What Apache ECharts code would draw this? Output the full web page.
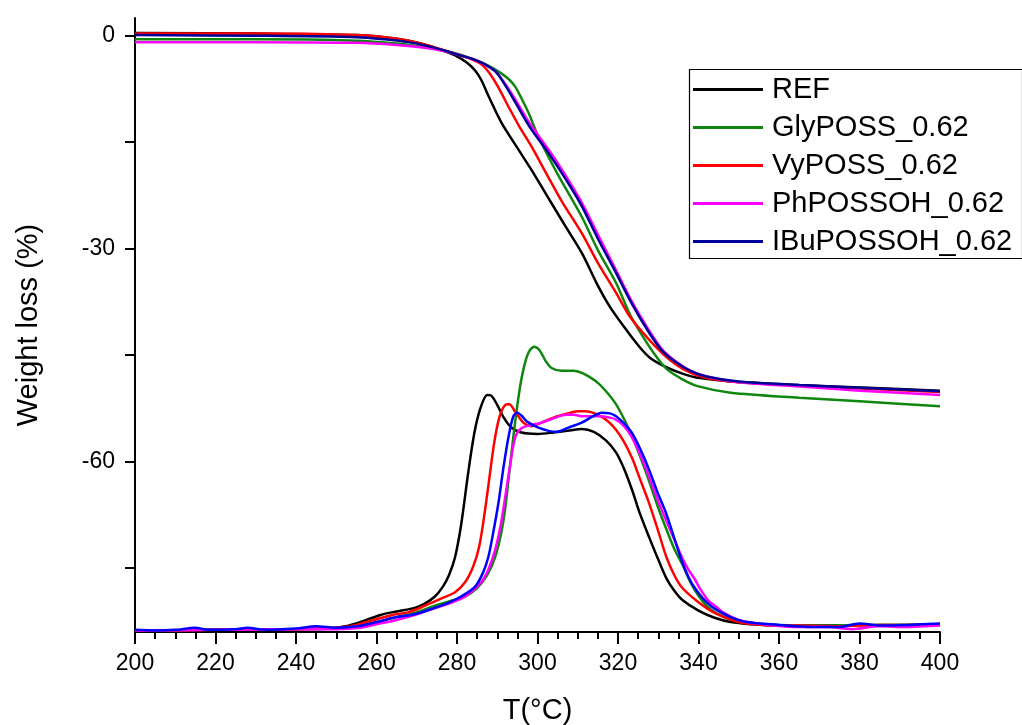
<!DOCTYPE html>
<html>
<head>
<meta charset="utf-8">
<script src="https://cdn.jsdelivr.net/npm/echarts@6/dist/echarts.min.js"></script>
<style>
  html, body { margin: 0; padding: 0; background: #fff; }
  #chart { width: 1022px; height: 725px; }
</style>
</head>
<body>
<div id="chart"></div>
<script>
// legend names
const names = ['REF', 'GlyPOSS_0.62', 'VyPOSS_0.62', 'PhPOSSOH_0.62', 'IBuPOSSOH_0.62'];

// TGA curves [T, weight change %]
const refTga = [[200,0.4],[230,0.3],[255,0.1],[262,-0.2],[268,-0.7],[273,-1.4],[277,-2.2],[280,-2.9],[282.5,-3.8],[284.5,-4.9],[286,-6.2],[288,-8.7],[291,-12.2],[295,-15.8],[298.5,-18.9],[302,-22.2],[307,-26.9],[311,-30.6],[315,-35.2],[318,-38.2],[322,-41.4],[325,-43.6],[328,-45.4],[332,-46.7],[336,-47.6],[340,-48.2],[348,-48.7],[365,-49.2],[382,-49.6],[400,-50.0]];
const glyTga = [[200,-0.5],[230,-0.5],[255,-0.7],[265,-1.1],[272,-1.6],[277,-2.1],[281,-2.7],[284,-3.3],[287,-4.0],[289,-4.6],[291,-5.3],[293,-6.2],[294.5,-7.2],[296,-8.8],[297.8,-10.9],[300.2,-14.2],[305,-19.5],[311,-25.5],[315,-30.2],[319.5,-34.8],[323,-39.3],[326,-42.2],[329,-44.8],[332,-46.9],[336,-48.4],[340,-49.4],[348,-50.3],[365,-51.0],[380,-51.5],[400,-52.2]];
const vyTga = [[200,0.3],[230,0.3],[255,0.1],[262,-0.2],[268,-0.7],[273,-1.4],[277,-2.1],[281,-2.8],[284,-3.4],[286,-4.0],[288,-5.2],[290,-7.0],[292.8,-10.0],[295.5,-12.8],[298.5,-15.6],[302,-19.2],[306,-23.3],[311,-27.8],[315,-32.0],[319.5,-36.2],[323,-39.6],[327.7,-42.8],[332.7,-45.6],[336,-46.9],[340,-47.9],[345,-48.5],[350,-48.8],[365,-49.3],[380,-49.7],[400,-50.2]];
const phTga = [[200,-0.9],[230,-0.9],[255,-1.0],[265,-1.3],[272,-1.7],[277,-2.2],[281,-2.8],[284,-3.3],[287,-4.1],[289.5,-5.0],[292,-6.8],[294.5,-9.0],[298,-12.3],[302.7,-16.0],[307,-19.7],[311,-23.5],[315,-28.0],[319.5,-33.0],[323.5,-37.5],[327.7,-41.5],[331,-44.2],[334.4,-45.9],[338,-47.2],[342,-48.0],[350,-48.8],[365,-49.4],[380,-50.0],[400,-50.6]];
const ibuTga = [[200,0.1],[230,0.0],[255,-0.2],[262,-0.5],[268,-0.9],[273,-1.5],[277,-2.1],[281,-2.8],[284,-3.3],[286.5,-3.9],[289.5,-5.0],[292,-7.0],[294.5,-9.4],[298,-12.8],[302.7,-16.5],[307,-20.2],[311,-24.0],[315,-28.6],[319.5,-33.4],[323.5,-37.8],[327.7,-41.8],[331,-44.4],[334.4,-46.0],[338,-47.2],[342,-48.0],[350,-48.7],[365,-49.2],[380,-49.6],[400,-50.1]];

// DTG curves, drawn offset on the same axis
const refDtg = [[200,-83.8],[210,-83.8],[220,-83.7],[230,-83.7],[240,-83.6],[248,-83.5],[253,-83.1],[257,-82.4],[261,-81.6],[265,-81.1],[269.5,-80.6],[272,-80.0],[274.5,-79.0],[276.5,-77.6],[278,-76.0],[279.5,-73.5],[281,-69.0],[282.8,-61.5],[284.3,-56.0],[285.8,-52.5],[287.5,-50.6],[288.5,-50.7],[290,-52.0],[291.5,-53.7],[293.5,-55.2],[296,-55.9],[300,-56.1],[304,-55.9],[308,-55.6],[311,-55.4],[314,-55.8],[317,-57.0],[319.5,-58.7],[321.5,-61.0],[323.5,-64.0],[325.5,-67.4],[327.7,-70.6],[330,-73.8],[332,-76.4],[334,-78.2],[336,-79.5],[340,-81.0],[344,-82.0],[348,-82.6],[353,-82.9],[360,-83.1],[370,-83.1],[380,-83.0],[390,-83.0],[400,-82.9]];
const glyDtg = [[200,-83.8],[220,-83.7],[240,-83.6],[250,-83.5],[255,-83.2],[260,-82.6],[265,-81.9],[269.5,-81.3],[274,-80.4],[278,-79.7],[282,-79.0],[285,-77.8],[287.5,-76.0],[289.5,-73.4],[291,-70.0],[292,-66.5],[293,-61.5],[294,-56.5],[295.3,-50.8],[296.5,-47.0],[297.8,-44.6],[299.2,-43.8],[300.5,-44.3],[302,-45.8],[303.5,-46.8],[306,-47.2],[309,-47.2],[311,-47.5],[313,-48.1],[315.2,-49.0],[317.5,-50.4],[319.5,-51.9],[321.5,-54.0],[323.4,-56.3],[325.5,-59.3],[327.7,-62.7],[330,-66.5],[332,-69.5],[334,-72.3],[336,-74.5],[338,-77.0],[340,-78.9],[342,-80.3],[344.3,-81.3],[348,-82.2],[352.6,-82.7],[360,-83.0],[370,-83.1],[380,-83.0],[390,-83.0],[400,-82.9]];
const vyDtg = [[200,-83.8],[220,-83.7],[240,-83.6],[250,-83.4],[255,-83.0],[260,-82.2],[264,-81.6],[268,-81.2],[272,-80.3],[276,-79.3],[279.5,-78.4],[282,-77.0],[284,-74.8],[285.5,-72.0],[286.8,-67.5],[288,-62.5],[289.2,-57.5],[290.5,-53.8],[292,-52.0],[293,-51.9],[294.5,-53.0],[296.5,-54.5],[298.5,-55.0],[301,-54.5],[304,-53.8],[307,-53.3],[310,-52.9],[312,-52.9],[315,-53.4],[317.5,-54.3],[319.5,-55.5],[321.5,-57.2],[323.5,-59.5],[325.5,-62.5],[327.7,-65.8],[330,-69.8],[332,-73.4],[334,-76.0],[336,-77.8],[340,-79.8],[344,-81.3],[350,-82.6],[356,-83.0],[365,-83.1],[375,-83.2],[385,-83.0],[400,-83.0]];
const phDtg = [[200,-83.8],[220,-83.7],[240,-83.6],[250,-83.6],[256,-83.4],[260,-82.9],[265,-82.3],[270,-81.5],[273.6,-80.8],[278,-80.0],[282,-79.0],[286,-77.0],[287.8,-75.2],[289.5,-72.4],[291,-68.5],[292,-64.9],[293.2,-60.5],[294.5,-56.5],[296,-55.3],[298,-54.9],[301,-54.5],[304,-53.9],[307,-53.4],[309,-53.4],[311,-53.6],[315.2,-53.6],[318,-53.8],[319.5,-54.1],[321.5,-55.0],[323.4,-56.5],[325.5,-59.0],[327.7,-62.1],[330,-65.6],[331.9,-68.2],[334,-71.0],[336,-73.6],[337.5,-75.2],[339,-76.5],[340.5,-78.0],[342.5,-79.6],[344.3,-80.4],[346,-81.2],[350,-82.3],[356,-82.9],[365,-83.3],[372,-83.3],[378,-83.6],[385,-83.2],[392,-83.3],[400,-83.1]];
const ibuDtg = [[200,-83.7],[205,-83.8],[210,-83.7],[215,-83.4],[218,-83.7],[225,-83.6],[228,-83.4],[232,-83.7],[240,-83.5],[245,-83.2],[250,-83.4],[255,-83.2],[260,-82.6],[265,-81.9],[269.5,-81.5],[274,-80.7],[277.8,-79.9],[281,-79.0],[284.5,-77.6],[286.5,-75.6],[287.8,-73.4],[289,-70.0],[290.3,-65.8],[291.5,-61.0],[292.8,-56.5],[294,-53.6],[295,-53.1],[296,-53.5],[297.5,-54.4],[300.2,-55.2],[304.5,-55.8],[307.7,-55.2],[311,-54.5],[313.5,-53.7],[316,-53.1],[318,-53.2],[319.5,-53.6],[321.5,-54.6],[323.4,-55.9],[325.5,-58.2],[327.7,-61.1],[330,-64.6],[331.9,-67.2],[334,-70.8],[336,-74.2],[338,-76.8],[340,-78.5],[342,-79.8],[344,-80.7],[348,-81.9],[352,-82.6],[360,-83.0],[368,-83.3],[375,-83.3],[380,-82.8],[385,-83.1],[392,-83.0],[400,-82.8]];

// axis ticks
const yTickValues = [0, -15, -30, -45, -60, -75];
const yLabelValues = [0, -30, -60];

const tgaSets = [refTga, glyTga, vyTga, phTga, ibuTga];
const dtgSets = [refDtg, glyDtg, vyDtg, phDtg, ibuDtg];
const tgaColors = ['#000000', '#0f870f', '#ff0000', '#ff00ff', '#000099'];
const dtgColors = ['#000000', '#0f870f', '#ff0000', '#ff00ff', '#0000ff'];

const font = 'Liberation Sans, Arial, sans-serif';

function line(name, data, color) {
  return {
    name: name,
    type: 'line',
    data: data,
    symbol: 'none',
    smooth: 0.3,
    lineStyle: { color: color, width: 2.5 },
    itemStyle: { color: color },
    z: 3
  };
}

const series = [];
names.forEach((n, i) => series.push(line(n, tgaSets[i], tgaColors[i])));
names.forEach((n, i) => series.push(line(n, dtgSets[i], dtgColors[i])));

const chart = echarts.init(document.getElementById('chart'), null, { renderer: 'canvas' });

chart.setOption({
  animation: false,
  backgroundColor: '#ffffff',
  grid: { left: 135, right: 82, top: 18, bottom: 93, outerBoundsMode: 'none', containLabel: false },
  xAxis: {
    type: 'value',
    min: 200,
    max: 400,
    interval: 20,
    name: 'T(°C)',
    nameLocation: 'middle',
    nameGap: 64,
    nameTextStyle: { fontFamily: font, fontSize: 29, color: '#000' },
    axisLine: { onZero: false, lineStyle: { color: '#000', width: 2 } },
    axisTick: { inside: false, length: 12, lineStyle: { color: '#000', width: 2 } },
    minorTick: { show: true, splitNumber: 4, length: 7, lineStyle: { color: '#000', width: 2 } },
    axisLabel: { fontFamily: font, fontSize: 23, color: '#000', margin: 20 },
    splitLine: { show: false }
  },
  yAxis: {
    type: 'value',
    min: -84.0,
    max: 2.5,
    name: 'Weight loss (%)',
    nameLocation: 'middle',
    nameGap: 92,
    nameRotate: 90,
    nameTextStyle: { fontFamily: font, fontSize: 29, color: '#000' },
    axisLine: { onZero: false, lineStyle: { color: '#000', width: 2 } },
    axisTick: { inside: false, length: 10, customValues: yTickValues, lineStyle: { color: '#000', width: 2 } },
    axisLabel: { fontFamily: font, fontSize: 23, color: '#000', margin: 20, customValues: yLabelValues },
    splitLine: { show: false }
  },
  legend: {
    data: names,
    orient: 'vertical',
    left: 693,
    top: 75,
    itemWidth: 70,
    itemHeight: 3,
    itemGap: 9,
    icon: 'rect',
    padding: 0,
    textStyle: { fontFamily: font, fontSize: 29, color: '#000', padding: [0, 0, 0, 4] }
  },
  graphic: [{
    type: 'rect',
    left: 687,
    top: 67,
    shape: { width: 333, height: 189 },
    style: { fill: 'none', stroke: '#000', lineWidth: 1.2 },
    silent: true,
    z: 10
  }],
  series: series
});
</script>
</body>
</html>
